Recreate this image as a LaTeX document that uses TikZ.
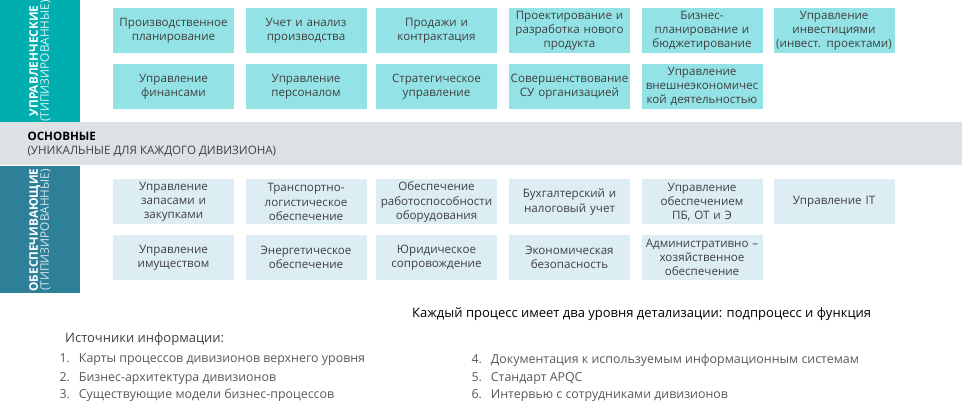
\documentclass[tikz,border=0pt]{standalone}
\usepackage{fontspec}
\setmainfont{Open Sans}
\usetikzlibrary{positioning}
\definecolor{upr}{HTML}{00ADAF}
\definecolor{obs}{HTML}{2E7F98}
\definecolor{band}{HTML}{DDE1E4}
\definecolor{uprbox}{HTML}{93E3E6}
\definecolor{obsbox}{HTML}{DCEEF3}
\definecolor{txt}{HTML}{404040}
\definecolor{lst}{HTML}{595959}
\tikzset{
  proc/.style={minimum width=121pt, minimum height=45pt, text width=121pt, align=center,
    inner sep=0pt, font=\fontsize{11.6}{14.2}\selectfont, text=txt},
  uprproc/.style={proc, fill=uprbox},
  obsproc/.style={proc, fill=obsbox},
  sidetitle/.style={rotate=90, text=white, align=center, font=\fontsize{11.8}{14}\selectfont},
  item/.style={anchor=west, text=lst, font=\fontsize{12.4}{14}\selectfont}
}
\begin{document}
\begin{tikzpicture}[x=1pt,y=-1pt]
        \useasboundingbox (0,0) rectangle (962,414);
        % Side bars and band
        \fill[upr] (0,0) rectangle (80,122);
        \fill[band] (0,122) rectangle (962,165);
        \fill[obs] (0,166) rectangle (80,293);
        \node[sidetitle] (uprtitle) at (40,61) {\textbf{УПРАВЛЕНЧЕСКИЕ}\\[-3pt]{\color{white!85!upr}(ТИПИЗИРОВАННЫЕ)}};
        \node[sidetitle] (obstitle) at (40,230) {\textbf{ОБЕСПЕЧИВАЮЩИЕ}\\[-3pt]{\color{white!80!obs}(ТИПИЗИРОВАННЫЕ)}};
        \node[anchor=west, align=left, font=\fontsize{11.6}{14}\selectfont] (osn) at (24,144)
          {\textbf{ОСНОВНЫЕ}\\{\color{txt}(УНИКАЛЬНЫЕ ДЛЯ КАЖДОГО ДИВИЗИОНА)}};

        % Management processes
        \node[uprproc] (u1) at (173.5,30.5) {Производственное\\планирование};
        \node[uprproc] (u2) at (306,30.5) {Учет и анализ\\производства};
        \node[uprproc] (u3) at (436.5,30.5) {Продажи и\\контрактация};
        \node[uprproc] (u4) at (569.5,30.5) {Проектирование и\\разработка нового\\продукта};
        \node[uprproc] (u5) at (702,30.5) {Бизнес-\\планирование и\\бюджетирование};
        \node[uprproc] (u6) at (834,30.5) {Управление\\инвестициями\\(инвест. проектами)};
        \node[uprproc] (u7) at (173.5,86.5) {Управление\\финансами};
        \node[uprproc] (u8) at (306,86.5) {Управление\\персоналом};
        \node[uprproc] (u9) at (436.5,86.5) {Стратегическое\\управление};
        \node[uprproc] (u10) at (569.5,86.5) {Совершенствование\\СУ организацией};
        \node[uprproc] (u11) at (702,86.5) {Управление\\внешнеэкономичес\\кой деятельностью};

        % Support processes
        \node[obsproc] (s1) at (173.5,202) {Управление\\запасами и\\закупками};
        \node[obsproc] (s2) at (306,202) {Транспортно-\\логистическое\\обеспечение};
        \node[obsproc] (s3) at (436.5,202) {Обеспечение\\работоспособности\\оборудования};
        \node[obsproc] (s4) at (569.5,202) {Бухгалтерский и\\налоговый учет};
        \node[obsproc] (s5) at (702,202) {Управление\\обеспечением\\ПБ, ОТ и Э};
        \node[obsproc] (s6) at (834,202) {Управление IT};
        \node[obsproc] (s7) at (173.5,257.5) {Управление\\имуществом};
        \node[obsproc] (s8) at (306,257.5) {Энергетическое\\обеспечение};
        \node[obsproc] (s9) at (436.5,257.5) {Юридическое\\сопровождение};
        \node[obsproc] (s10) at (569.5,257.5) {Экономическая\\безопасность};
        \node[obsproc] (s11) at (702,257.5) {Административно –\\хозяйственное\\обеспечение};

        % Notes
        \node[anchor=west, inner sep=0pt, font=\fontsize{13}{15}\selectfont] (note) at (412,314)
          {Каждый процесс имеет два уровня детализации: подпроцесс и функция};
        \node[anchor=west, inner sep=0pt, font=\fontsize{13}{15}\selectfont, text=txt] (src) at (65,339) {Источники информации:};
        \node[item] (i1) at (56,360) {1.\hspace{9pt}Карты процессов дивизионов верхнего уровня};
        \node[item] (i2) at (56,378) {2.\hspace{9pt}Бизнес-архитектура дивизионов};
        \node[item] (i3) at (56,395) {3.\hspace{9pt}Существующие модели бизнес-процессов};
        \node[item] (i4) at (468,360) {4.\hspace{9pt}Документация к используемым информационным системам};
        \node[item] (i5) at (468,378) {5.\hspace{9pt}Стандарт APQC};
        \node[item] (i6) at (468,395) {6.\hspace{9pt}Интервью с сотрудниками дивизионов};
\end{tikzpicture}
\end{document}
